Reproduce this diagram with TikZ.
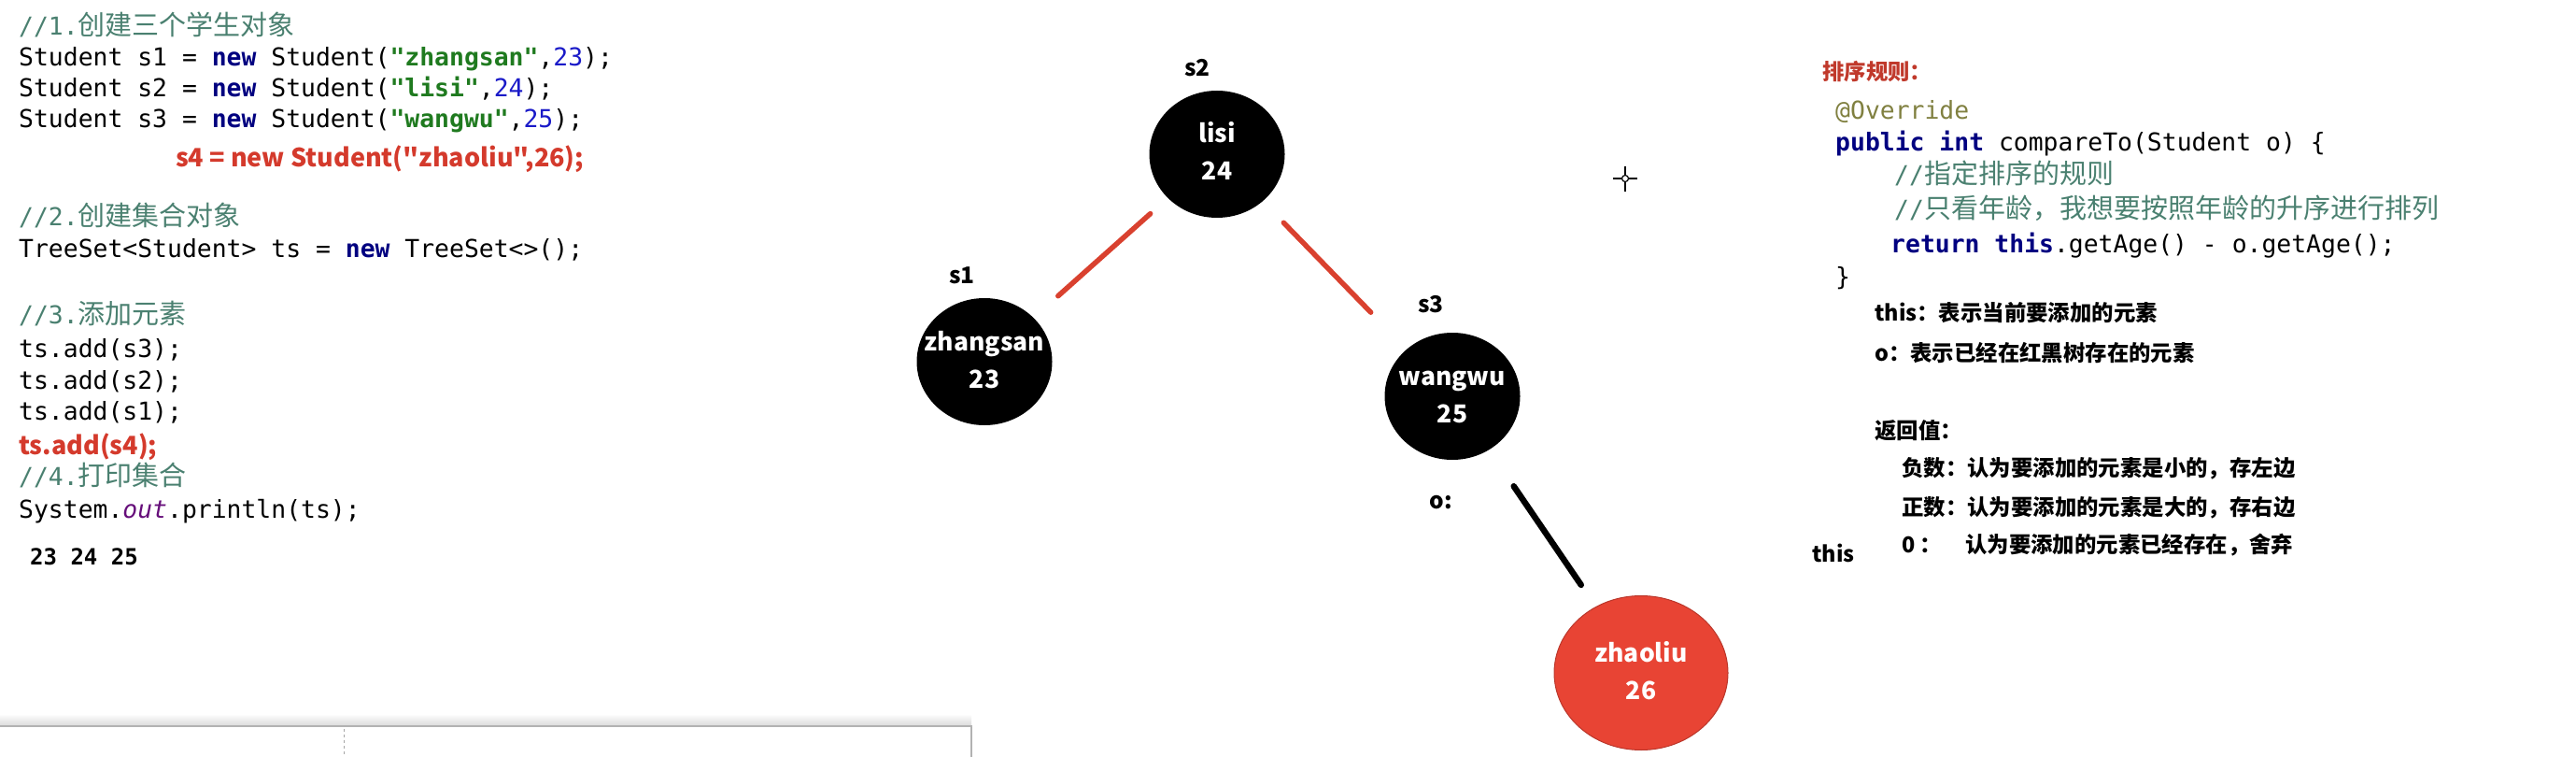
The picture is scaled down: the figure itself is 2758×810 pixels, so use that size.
\documentclass[tikz,border=0pt]{standalone}
\usepackage{fontspec}
\newfontfamily\mono{DejaVu Sans Mono}
\newfontfamily\cjk{Noto Sans CJK SC}
\usetikzlibrary{shapes.geometric}
\definecolor{kwc}{HTML}{000080}
\definecolor{strc}{HTML}{1F7A1F}
\definecolor{numc}{HTML}{1A1AC8}
\definecolor{cmc}{HTML}{4A8070}
\definecolor{fieldc}{HTML}{660E7A}
\definecolor{annc}{HTML}{808040}
\definecolor{redc}{HTML}{D43A2C}
\definecolor{rulered}{HTML}{C0392B}
\definecolor{edgered}{HTML}{D9412F}
\definecolor{nodered}{HTML}{E84434}
\newcommand\kw[1]{{\color{kwc}\bfseries #1}}
\newcommand\jstr[1]{{\color{strc}\bfseries #1}}
\newcommand\jnum[1]{{\color{numc}#1}}
\newcommand\zh[1]{{\cjk\fontsize{29}{29}\selectfont #1}}
\tikzset{
	code/.style={anchor=base west, inner sep=0pt, font=\mono\fontsize{26.4}{26.4}\selectfont},
	comment/.style={code, text=cmc},
	note/.style={anchor=base west, inner sep=0pt, font=\cjk\bfseries\fontsize{23.4}{23.4}\selectfont},
	redcode/.style={anchor=base west, inner sep=0pt, text=redc, font=\cjk\bfseries\fontsize{27}{27}\selectfont},
	tag/.style={inner sep=0pt, font=\cjk\bfseries\fontsize{24.5}{24.5}\selectfont},
	blackstu/.style={ellipse, fill=black, inner sep=0pt, minimum width=145pt, minimum height=136pt},
	redstu/.style={ellipse, fill=nodered, draw=nodered!80!black, line width=1pt, inner sep=0pt, minimum width=186pt, minimum height=165pt},
	stutext/.style={align=center, text=white, inner sep=0pt, font=\cjk\bfseries\fontsize{26.5}{40}\selectfont},
	edge/.style={line width=5.5pt, line cap=round, draw=edgered}
}
\begin{document}
\begin{tikzpicture}[x=1pt,y=-1pt]
		\useasboundingbox (0,0) rectangle (2758,810);
		\draw (20,38) node[comment](c1){//1.\zh{创建三个学生对象}};
		\draw (20,71) node[code](l1){Student s1 = \kw{new} Student(\jstr{"zhangsan"},\jnum{23});};
		\draw (20,104) node[code](l2){Student s2 = \kw{new} Student(\jstr{"lisi"},\jnum{24});};
		\draw (20,137) node[code](l3){Student s3 = \kw{new} Student(\jstr{"wangwu"},\jnum{25});};
		\draw (188,179) node[redcode](l4){s4 = new Student("zhaoliu",26);};
		\draw (20,242) node[comment](c2){//2.\zh{创建集合对象}};
		\draw (20,276) node[code](set){TreeSet<Student> ts = \kw{new} TreeSet<>();};
		\draw (20,347) node[comment](c3){//3.\zh{添加元素}};
		\draw (20,382) node[code](a3){ts.add(s3);};
		\draw (20,416) node[code](a2){ts.add(s2);};
		\draw (20,449) node[code](a1){ts.add(s1);};
		\draw (20,486) node[redcode](a4){ts.add(s4);};
		\draw (20,519) node[comment](c4){//4.\zh{打印集合}};
		\draw (20,554) node[code](pr){System.{\color{fieldc}\itshape out}.println(ts);};
		\draw (32,604) node[code, font=\mono\bfseries\fontsize{24}{24}\selectfont](res){23 24 25};
		\draw (1282,73) node[tag](t2){s2};
		\draw (1303,165) node[blackstu](lisi){};
		\draw (lisi) node[stutext](lisi-t){\strut lisi\\\strut 24};
		\draw (1030,295) node[tag](t1){s1};
		\draw (1054,387) node[blackstu](zhangsan){};
		\draw (zhangsan) node[stutext](zhangsan-t){\strut zhangsan\\\strut 23};
		\draw (1532,326) node[tag](t3){s3};
		\draw (1555,424) node[blackstu](wangwu){};
		\draw (wangwu) node[stutext](wangwu-t){\strut wangwu\\\strut 25};
		\draw (1543,538) node[tag](to){o:};
		\draw (1757,720) node[redstu](zhaoliu){};
		\draw (zhaoliu) node[stutext](zhaoliu-t){\strut zhaoliu\\\strut 26};
		\draw[edge, shorten <=25pt, shorten >=35pt] (lisi) -- (zhangsan);
		\draw[edge, shorten <=32pt, shorten >=55pt] (lisi) -- (wangwu);
		\draw[line width=6.5pt, line cap=round, shorten <=47pt, shorten >=28pt] (wangwu) -- (zhaoliu);
		\draw (1951,86) node[note, text=rulered](rule){排序规则：};
		\draw (1965,128) node[code, text=annc](ov){@Override};
		\draw (1965,162) node[code](sig){\kw{public} \kw{int} compareTo(Student o) \{};
		\draw (2028,197) node[comment](c5){//\zh{指定排序的规则}};
		\draw (2028,234) node[comment](c6){//\zh{只看年龄，我想要按照年龄的升序进行排列}};
		\draw (2024,271) node[code](ret){\kw{return} \kw{this}.getAge() - o.getAge();};
		\draw (1965,306) node[code](brace){\}};
		\draw (2007,344) node[note](n1){this：表示当前要添加的元素};
		\draw (2007,386) node[note](n2){o：表示已经在红黑树存在的元素};
		\draw (2007,469) node[note](n3){返回值：};
		\draw (2036,509) node[note](n4){负数：认为要添加的元素是小的，存左边};
		\draw (2036,551) node[note](n5){正数：认为要添加的元素是大的，存右边};
		\draw (2036,591) node[note](n6){0 ：\hspace{25pt}认为要添加的元素已经存在，舍弃};
		\draw (1940,601) node[note](this){this};
		\draw[line width=1.2pt] (1740,178) -- (1740,187) (1740,195) -- (1740,205) (1727,191) -- (1736,191) (1744,191) -- (1753,191);
		\draw[line width=1.2pt] (1740,191) circle (3.5);
		\shade[top color=white, bottom color=gray!30] (0,764) rectangle (1040,777);
		\draw[gray!60, line width=1.5pt] (0,777) -- (1040,777) -- (1040,810);
		\draw[gray!70, dashed, line width=1pt] (368,780) -- (368,810);
	\end{tikzpicture}
\end{document}
